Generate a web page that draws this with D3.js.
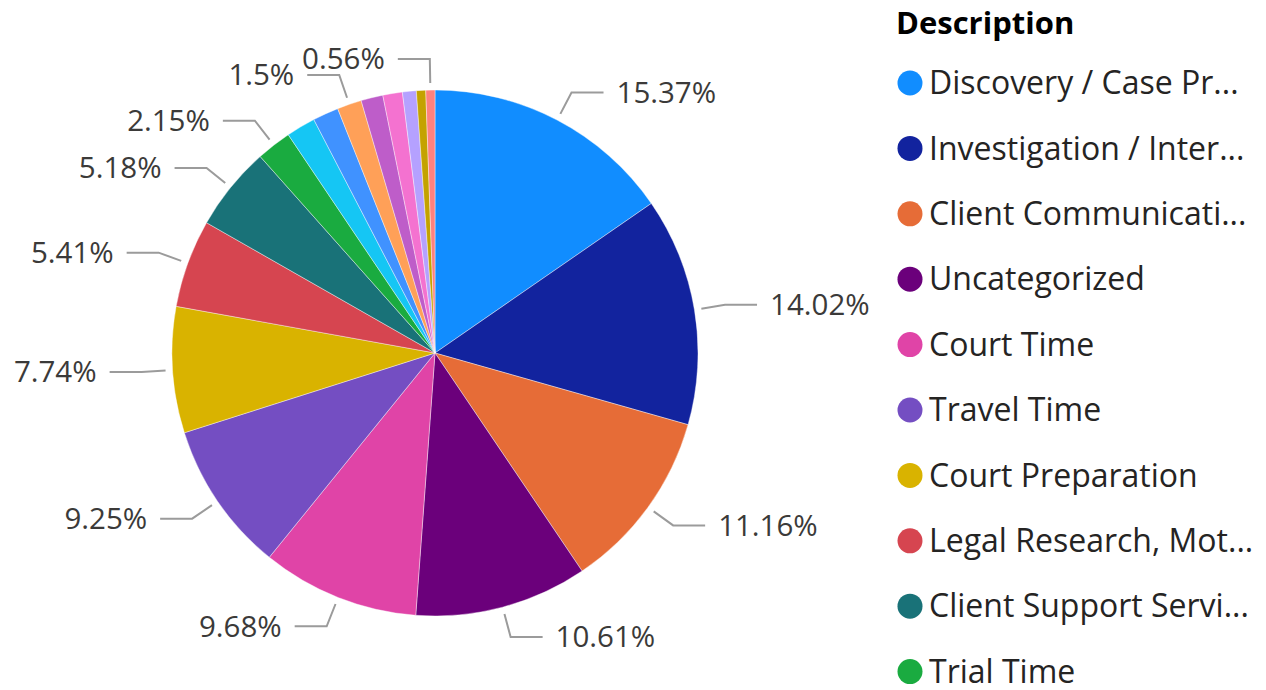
<!DOCTYPE html>
<html>
<head>
    <meta charset="utf-8">
    <script src="https://cdnjs.cloudflare.com/ajax/libs/d3/7.8.5/d3.min.js"></script>
    <style>
        body {
            margin: 0;
            background: #fff;
            font-family: "Open Sans", Arial, sans-serif;
        }
        .lbl {
            fill: #3b3a39;
            font-size: 29.5px;
        }
        .leg {
            fill: #252423;
            font-size: 32px;
        }
    </style>
</head>
<body>
    <svg width="1266" height="690"></svg>
    <script>
        // hours share by description (only the first ten are visible in the legend)
        var categories = [
            "Discovery / Case Preparation", "Investigation / Interviews", "Client Communication",
            "Uncategorized", "Court Time", "Travel Time", "Court Preparation",
            "Legal Research, Motions", "Client Support Services", "Trial Time",
            "Category 11", "Category 12", "Category 13", "Category 14",
            "Category 15", "Category 16", "Category 17", "Category 18"
        ];
        var values = [15.37, 14.02, 11.16, 10.61, 9.68, 9.25, 7.74, 5.41, 5.18, 2.15,
            1.8, 1.59, 1.5, 1.35, 1.2, 0.85, 0.57, 0.56];
        var colors = ["#118DFF", "#12239E", "#E66C37", "#6B007B", "#E044A7", "#744EC2",
            "#D9B300", "#D64550", "#197278", "#1AAB40", "#15C6F4", "#4092FF",
            "#FFA058", "#BE5DC9", "#F472D0", "#B5A1FF", "#C4A200", "#FD817E"];
        // slices that get a data label (the rest collide and are dropped)
        var labelled = [0, 1, 2, 3, 4, 5, 6, 7, 8, 9, 12, 17];
        var legendCount = 10;

        var svg = d3.select("svg"),
            cx = 435, cy = 353, radius = 263;

        var data = categories.map(function(c, i) {
            return { name: c, value: values[i], idx: i };
        });

        var color = d3.scaleOrdinal().domain(categories).range(colors);

        var pie = d3.pie().sort(null).value(function(d) { return d.value; });
        var arc = d3.arc().innerRadius(0).outerRadius(radius);

        var g = svg.append("g").attr("transform", "translate(" + cx + "," + cy + ")");

        var arcs = pie(data);

        g.selectAll("path.slice")
            .data(arcs)
            .enter().append("path")
            .attr("class", "slice")
            .attr("d", arc)
            .attr("fill", function(d) { return color(d.data.name); })
            .attr("stroke", "#fff")
            .attr("stroke-width", 0.4);

        // leader lines + labels
        function pt(a, r) {
            return [Math.sin(a) * r, -Math.cos(a) * r];
        }

        arcs.filter(function(d) { return labelled.indexOf(d.data.idx) >= 0; })
            .forEach(function(d) {
                var a = (d.startAngle + d.endAngle) / 2;
                var side = Math.sin(a) >= 0 ? 1 : -1;
                var p0 = pt(a, radius + 7),
                    p1 = pt(a, radius + 31),
                    p2 = [p1[0] + side * 32, p1[1]];
                g.append("polyline")
                    .attr("points", [p0, p1, p2].map(function(p) { return p.join(","); }).join(" "))
                    .attr("fill", "none")
                    .attr("stroke", "#9b9b9b")
                    .attr("stroke-width", 2);
                g.append("text")
                    .attr("class", "lbl")
                    .attr("x", p2[0] + side * 13)
                    .attr("y", p2[1])
                    .attr("dy", "0.35em")
                    .attr("text-anchor", side > 0 ? "start" : "end")
                    .text(d.data.value + "%");
            });

        // legend
        var leg = svg.append("g");
        leg.append("text")
            .attr("x", 896)
            .attr("y", 34)
            .attr("font-size", "31px")
            .attr("font-weight", "bold")
            .attr("fill", "#000")
            .text("Description");

        var maxW = 326;
        var rows = leg.selectAll("g.row")
            .data(data.slice(0, legendCount))
            .enter().append("g")
            .attr("class", "row")
            .attr("transform", function(d, i) { return "translate(0," + (83 + i * 65.4) + ")"; });

        rows.append("circle")
            .attr("cx", 910)
            .attr("cy", 0)
            .attr("r", 12.5)
            .attr("fill", function(d) { return color(d.name); });

        rows.append("text")
            .attr("class", "leg")
            .attr("x", 929)
            .attr("y", 0)
            .attr("dy", "0.35em")
            .text(function(d) { return d.name; })
            .each(function(d) {
                var t = d3.select(this), s = d.name;
                if (this.getComputedTextLength() <= maxW) return;
                while (s.length > 1) {
                    s = s.slice(0, -1);
                    t.text(s.replace(/\s+$/, "") + "...");
                    if (this.getComputedTextLength() <= maxW) break;
                }
            });
    </script>
</body>
</html>
